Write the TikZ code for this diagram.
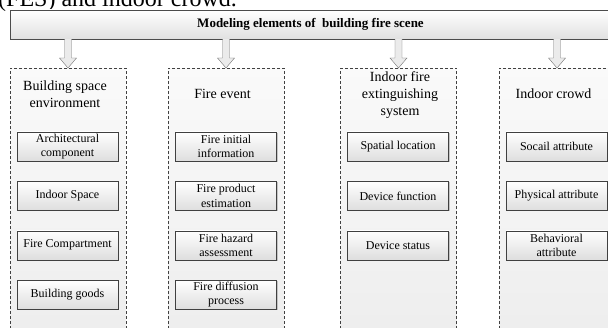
\documentclass[tikz,border=0pt]{standalone}
\usepackage{fontspec}
\setmainfont{Liberation Serif}
\usetikzlibrary{positioning,calc,shadows}

% hollow block arrow from the header down to a column
\newcommand{\hollowdown}[2]{%
  \draw[hollow] let \p1=(#1.south -| #2.north), \p2=(#2.north) in
    (\x1-3.5pt,\y1) -- (\x1-3.5pt,\y2+10pt) -- (\x1-8.5pt,\y2+10pt) -- (\x2,\y2)
    -- (\x1+8.5pt,\y2+10pt) -- (\x1+3.5pt,\y2+10pt) -- (\x1+3.5pt,\y1);}

\begin{document}
\begin{tikzpicture}[x=1pt,y=1pt,
  topbox/.style={draw=black!70,top color=white,bottom color=black!12,
    minimum width=601pt,minimum height=29pt,inner sep=0pt,
    font=\fontsize{13}{15}\selectfont\bfseries},
  column/.style={draw=black!75,dash pattern=on 3pt off 2pt,
    top color=black!2,bottom color=black!7,anchor=north,
    minimum width=116pt,minimum height=275pt,inner sep=0pt},
  coltitle/.style={align=center,inner sep=0pt,font=\fontsize{14}{17}\selectfont},
  item/.style={draw=black!75,top color=white,bottom color=black!13,
    minimum width=101pt,minimum height=29pt,inner sep=1pt,align=center,
    font=\fontsize{12}{14.5}\selectfont,
    drop shadow={shadow xshift=1pt,shadow yshift=-1pt,fill=black!35,opacity=0.6}},
  hollow/.style={draw=black!55,fill=black!8,line join=miter}
]
\useasboundingbox (0,0) rectangle (608,328);
\clip (0,0) rectangle (608,328);

% caption line cut off above
\node[anchor=base west,inner sep=0pt,font=\fontsize{24}{28}\selectfont] (caption) at (-2,321) {(FES) and indoor crowd.};

\node[topbox] (top) at (310.5,303.5) {Modeling elements of \ building fire scene};

% columns
\node[column] (c1) at (68,260) {};
\node[column] (c2) at (226,260) {};
\node[column] (c3) at (398.5,260) {};
\node[column] (c4) at (557,260) {};

\foreach \c in {c1,c2,c3,c4} {\hollowdown{top}{\c}}

\node[coltitle] (t1) at (65,234) {Building space\\environment};
\node[coltitle] (t2) at (222.5,234) {Fire event};
\node[coltitle] (t3) at (400,233) {Indoor fire\\extinguishing\\system};
\node[coltitle] (t4) at (553.5,234) {Indoor crowd};

% building space environment
\node[item] (b1) at (67.5,181.5) {Architectural\\component};
\node[item,below=20pt of b1] (b2) {Indoor Space};
\node[item,below=20pt of b2] (b3) {Fire Compartment};
\node[item,below=20pt of b3] (b4) {Building goods};

% fire event
\node[item] (f1) at (226,181.5) {Fire initial\\information};
\node[item,below=20pt of f1] (f2) {Fire product\\estimation};
\node[item,below=20pt of f2] (f3) {Fire hazard\\assessment};
\node[item,below=20pt of f3] (f4) {Fire diffusion\\process};

% extinguishing system
\node[item] (e1) at (398,181.5) {Spatial location};
\node[item,below=20pt of e1] (e2) {Device function};
\node[item,below=20pt of e2] (e3) {Device status};

% indoor crowd
\node[item] (p1) at (556.5,181.5) {Socail attribute};
\node[item,below=20pt of p1] (p2) {Physical attribute};
\node[item,below=20pt of p2] (p3) {Behavioral\\attribute};

\end{tikzpicture}
\end{document}
